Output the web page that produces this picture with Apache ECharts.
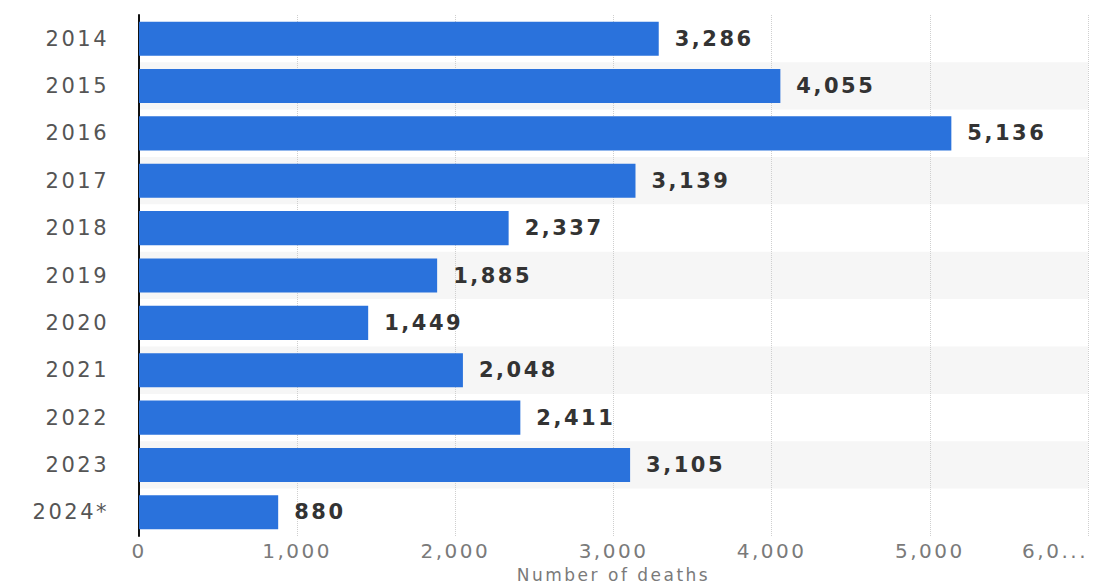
<!DOCTYPE html>
<html>
<head>
<meta charset="utf-8">
<script src="https://cdn.jsdelivr.net/npm/echarts@6/dist/echarts.min.js"></script>
<style>
  html, body { margin: 0; padding: 0; background: #fff; }
  #chart { width: 1097px; height: 585px; }
  /* the source picture has wide lettering */
  #chart text { letter-spacing: 2.5px; }
</style>
</head>
<body>
<div id="chart"></div>
<script>
// years shown on the category axis, top to bottom
const years = ['2014', '2015', '2016', '2017', '2018', '2019', '2020', '2021', '2022', '2023', '2024*'];
// number of deaths per year
const deaths = [3286, 4055, 5136, 3139, 2337, 1885, 1449, 2048, 2411, 3105, 880];
const xTicks = [0, 1000, 2000, 3000, 4000, 5000, 6000];

const chart = echarts.init(document.getElementById('chart'), null, { renderer: 'svg' });
chart.setOption({
  animation: false,
  grid: { left: 139, right: 9, top: 15, bottom: 49, containLabel: false, outerBoundsMode: 'none' },
  xAxis: {
    type: 'value',
    min: xTicks[0],
    max: xTicks[xTicks.length - 1],
    interval: 1000,
    name: 'Number of deaths',
    nameLocation: 'middle',
    nameGap: 21,
    nameTextStyle: { fontFamily: 'DejaVu Sans', fontSize: 17, color: '#7a7a7a', verticalAlign: 'top', lineHeight: 18 },
    axisLine: { show: false },
    axisTick: { show: false },
    axisLabel: {
      fontFamily: 'DejaVu Sans', fontSize: 20, color: '#7a7a7a', margin: 5,
      alignMaxLabel: 'right',
      formatter: v => v === 6000 ? '6,0...' : v.toLocaleString('en-US')
    },
    splitLine: { show: true, lineStyle: { color: '#cfcfcf', type: 'dotted', width: 1 } }
  },
  yAxis: {
    type: 'category',
    data: years,
    inverse: true,
    axisLine: { show: true, lineStyle: { color: '#111', width: 2 } },
    axisTick: { show: false },
    axisLabel: { fontFamily: 'DejaVu Sans', fontSize: 21, color: '#555', margin: 30 },
    splitArea: { show: true, areaStyle: { color: ['#ffffff', '#f6f6f6'] } }
  },
  series: [{
    type: 'bar',
    data: deaths,
    barCategoryGap: '28%',
    itemStyle: { color: '#2a72dc' },
    label: {
      show: true,
      position: 'right',
      distance: 16,
      fontFamily: 'DejaVu Sans',
      fontWeight: 'bold',
      fontSize: 21,
      color: '#333',
      formatter: p => p.value.toLocaleString('en-US')
    }
  }]
});
</script>
</body>
</html>
